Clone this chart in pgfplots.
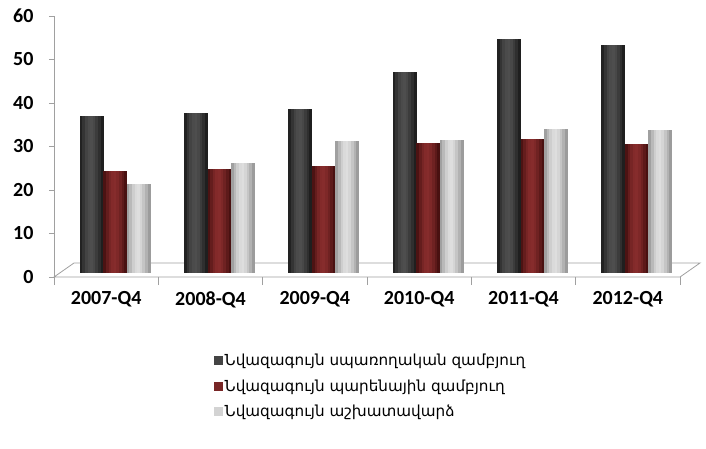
\documentclass[border=0pt]{standalone}
\usepackage{fontspec}
\setmainfont{Carlito}
\newfontfamily\armfont{DejaVu Sans}
\usepackage{pgfplots}
\pgfplotsset{compat=1.18}
\definecolor{dkA}{HTML}{1A1A1A}
\definecolor{dkB}{HTML}{4E4E4E}
\definecolor{rdA}{HTML}{420E0E}
\definecolor{rdB}{HTML}{862C2C}
\definecolor{ltA}{HTML}{959595}
\definecolor{ltB}{HTML}{DEDEDE}
\definecolor{axgray}{HTML}{A0A0A0}
% one vertical strip of a bar: colour prefix, x offset (pt), share of light colour, category, value
\newcommand\strip[5]{\addplot[forget plot, draw=none, fill=#1B!#3!#1A,
  bar width=2.85pt, bar shift=0pt, xshift={(#2)*1pt}, yshift=4pt]
  coordinates {(#4,#5)};}
% one cylinder-like bar: colour prefix, series offset (pt), category, value
\newcommand\cyl[4]{%
  \strip{#1}{#2-10.44}{15}{#3}{#4}%
  \strip{#1}{#2-7.83}{50}{#3}{#4}%
  \strip{#1}{#2-5.22}{78}{#3}{#4}%
  \strip{#1}{#2-2.61}{95}{#3}{#4}%
  \strip{#1}{#2}{100}{#3}{#4}%
  \strip{#1}{#2+2.61}{88}{#3}{#4}%
  \strip{#1}{#2+5.22}{66}{#3}{#4}%
  \strip{#1}{#2+7.83}{40}{#3}{#4}%
  \strip{#1}{#2+10.44}{10}{#3}{#4}}
\begin{document}
\begin{tikzpicture}[x=1pt,y=1pt]
\path[use as bounding box] (-54,-171) rectangle (652,277);
\begin{axis}[
  at={(0,0)}, anchor=south west,
  scale only axis, width=626pt, height=261pt,
  clip=false,
  xmin=-0.5, xmax=5.5, ymin=0, ymax=60,
  ytick={0,10,...,60},
  xtick={0,...,5},
  xticklabels={2007-Q4,2008-Q4,2009-Q4,2010-Q4,2011-Q4,2012-Q4},
  minor xtick={-0.5,0.5,...,5.5},
  major x tick style={draw=none},
  minor x tick style={axgray, line width=0.8pt},
  minor tick length=8pt,
  y tick style={axgray, line width=0.8pt},
  major tick length=5pt,
  tick align=outside,
  tick pos=left,
  axis x line*=bottom, axis y line*=left,
  x axis line style={draw=none},
  y axis line style={axgray, line width=0.8pt, -},
  /pgf/number format/assume math mode=true,
  ticklabel style={font=\bfseries\fontsize{20}{22}\selectfont, text=black},
  yticklabel style={xshift=-12pt},
  xticklabel style={yshift=-6pt},
  ybar=0pt,
  legend style={at={(0.25,-0.28)}, anchor=north west, draw=none, fill=none,
    font=\armfont\fontsize{15.2}{18}\selectfont, row sep=8.5pt,
    legend cell align=left},
  legend image code/.code={\fill[#1, draw=none] (0pt,-4.5pt) rectangle (9pt,4.5pt);},
]
\draw[axgray, line width=0.8pt] (axis cs:-0.5,0) -- (axis cs:5.5,0) -- ++(20pt,14pt) -- ([shift={(20pt,14pt)}]axis cs:-0.5,0) -- cycle;
\addlegendimage{fill=dkB!80!dkA}
\addlegendentry{Նվազագույն սպառողական զամբյուղ}
\addlegendimage{fill=rdB!80!rdA}
\addlegendentry{Նվազագույն պարենային զամբյուղ}
\addlegendimage{fill=ltB!85!ltA}
\addlegendentry{Նվազագույն աշխատավարձ}
% series 1: dark grey
\cyl{dk}{9-23.48}{0}{36.1}
\cyl{dk}{9-23.48}{1}{36.8}
\cyl{dk}{9-23.48}{2}{37.7}
\cyl{dk}{9-23.48}{3}{46.2}
\cyl{dk}{9-23.48}{4}{53.8}
\cyl{dk}{9-23.48}{5}{52.4}
% series 2: dark red
\cyl{rd}{9}{0}{23.4}
\cyl{rd}{9}{1}{23.9}
\cyl{rd}{9}{2}{24.6}
\cyl{rd}{9}{3}{29.9}
\cyl{rd}{9}{4}{30.8}
\cyl{rd}{9}{5}{29.7}
% series 3: light grey
\cyl{lt}{9+23.48}{0}{20.4}
\cyl{lt}{9+23.48}{1}{25.3}
\cyl{lt}{9+23.48}{2}{30.3}
\cyl{lt}{9+23.48}{3}{30.5}
\cyl{lt}{9+23.48}{4}{33.1}
\cyl{lt}{9+23.48}{5}{32.9}
\end{axis}
\end{tikzpicture}
\end{document}
